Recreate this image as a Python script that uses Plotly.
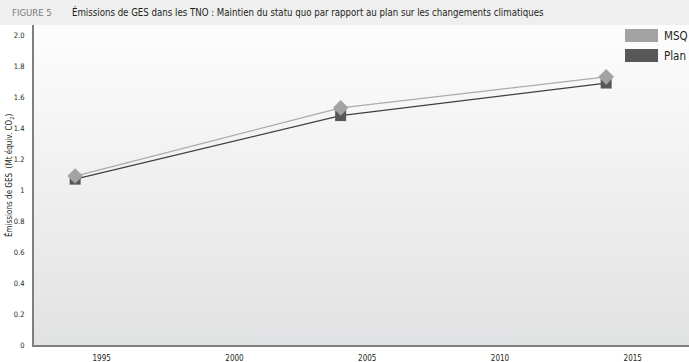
import plotly.graph_objects as go

# Emissions data (Mt CO2 equivalent)
years = [1994, 2004, 2014]
msq_values = [1.09, 1.53, 1.73]
plan_values = [1.07, 1.48, 1.69]

y_tick_vals = [0, 0.2, 0.4, 0.6, 0.8, 1.0, 1.2, 1.4, 1.6, 1.8, 2.0]
y_tick_text = ["0", "0.2", "0.4", "0.6", "0.8", "1", "1.2", "1.4", "1.6", "1.8", "2.0"]
x_tick_vals = [1995, 2000, 2005, 2010, 2015]

series_names = ["MSQ", "Plan"]
series_colors = {"MSQ": "#a3a3a3", "Plan": "#58585a"}

FONT = "Liberation Sans Narrow, DejaVu Sans Condensed, Arial Narrow, sans-serif"

W, H = 689, 362
M_L, M_R, M_T, M_B = 34, 0, 25, 17
X_RANGE = [1992.45, 2017.12]
Y_RANGE = [0, 2.0645]


def px_x(p):
    return (p - M_L) / (W - M_L - M_R)


def px_y(p):
    return (H - M_B - p) / (H - M_T - M_B)


fig = go.Figure()

# Plot-area background: vertical gradient from light grey to near white
fig.add_trace(go.Scatter(
    x=[X_RANGE[0], X_RANGE[1], X_RANGE[1], X_RANGE[0], X_RANGE[0]],
    y=[Y_RANGE[0], Y_RANGE[0], Y_RANGE[1], Y_RANGE[1], Y_RANGE[0]],
    mode="none", fill="toself",
    fillgradient=dict(type="vertical",
                      colorscale=[[0, "#e1e2e3"], [1, "#fdfdfd"]]),
    hoverinfo="skip", showlegend=False,
))

fig.add_trace(go.Scatter(
    x=years, y=plan_values, name="Plan", mode="lines+markers",
    line=dict(color="#3f3f40", width=1.2),
    marker=dict(symbol="square", size=11, color=series_colors["Plan"]),
    showlegend=False,
))
fig.add_trace(go.Scatter(
    x=years, y=msq_values, name="MSQ", mode="lines+markers",
    line=dict(color="#ababab", width=1.2),
    marker=dict(symbol="diamond", size=12, color=series_colors["MSQ"]),
    showlegend=False,
))

shapes = [
    # title band
    dict(type="rect", xref="paper", yref="paper",
         x0=px_x(0), x1=px_x(W), y0=px_y(M_T), y1=px_y(0),
         fillcolor="#efefef", line=dict(width=0), layer="below"),
]
annotations = [
    dict(text="FIGURE 5", xref="paper", yref="paper",
         x=px_x(10), y=px_y(12), xanchor="left", yanchor="middle",
         showarrow=False, font=dict(family=FONT, size=9.5, color="#7a7a7a")),
    dict(text="Émissions de GES dans les TNO : Maintien du statu quo par rapport au plan sur les changements climatiques",
         xref="paper", yref="paper",
         x=px_x(70), y=px_y(12), xanchor="left", yanchor="middle",
         showarrow=False, font=dict(family=FONT, size=9.6, color="#231f20")),
    dict(text="Émissions de GES  (Mt équiv. CO<sub>2</sub>)", xref="paper", yref="paper",
         x=px_x(9), y=px_y(176), xanchor="center", yanchor="middle",
         textangle=-90, showarrow=False,
         font=dict(family=FONT, size=8, color="#231f20")),
]

# Legend swatches drawn as wide rectangles with labels
for i, name in enumerate(series_names):
    top = 29 + i * 20
    shapes.append(dict(type="rect", xref="paper", yref="paper",
                       x0=px_x(625), x1=px_x(658), y0=px_y(top + 13), y1=px_y(top),
                       fillcolor=series_colors[name], line=dict(width=0)))
    annotations.append(dict(text=name, xref="paper", yref="paper",
                            x=px_x(662), y=px_y(top + 7), xanchor="left", yanchor="middle",
                            showarrow=False,
                            font=dict(family=FONT, size=11.5, color="#231f20")))

fig.update_layout(
    width=W, height=H,
    margin=dict(l=M_L, r=M_R, t=M_T, b=M_B, pad=0),
    paper_bgcolor="white", plot_bgcolor="white",
    font=dict(family=FONT, size=8, color="#231f20"),
    shapes=shapes, annotations=annotations,
    xaxis=dict(range=X_RANGE, tickvals=x_tick_vals, showgrid=False, zeroline=False,
               showline=True, linecolor="#7f7f7f", linewidth=2, ticks="",
               tickfont=dict(size=8), ticklabelstandoff=4),
    yaxis=dict(range=Y_RANGE, tickvals=y_tick_vals, ticktext=y_tick_text,
               showgrid=False, zeroline=False,
               showline=True, linecolor="#7f7f7f", linewidth=2, ticks="",
               tickfont=dict(size=7.5), ticklabelstandoff=6),
    showlegend=False,
)

fig.write_html("out.html")
